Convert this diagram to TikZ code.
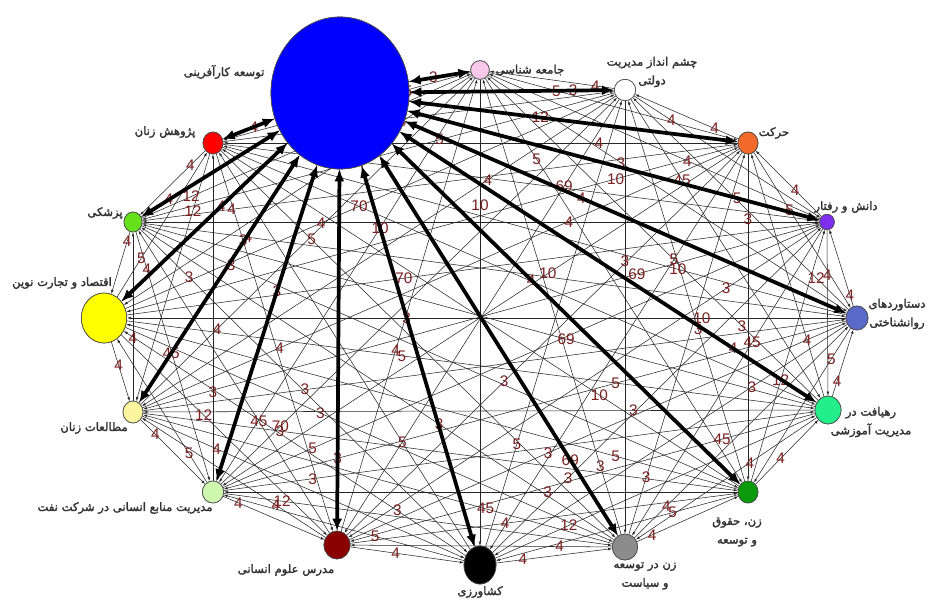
\documentclass[tikz,border=0pt]{standalone}
\usepackage{fontspec}
\TeXXeTstate=1
\newfontfamily\fa[Script=Arabic,FakeBold=2]{DejaVu Sans}
\newfontfamily\numf{Liberation Sans}
\usetikzlibrary{shapes.geometric,arrows.meta}
\definecolor{lab}{HTML}{7B1F1F}
\definecolor{cpink}{HTML}{F7C8EA}
\definecolor{corange}{HTML}{F26A2A}
\definecolor{cpurple}{HTML}{7F2FF0}
\definecolor{cslate}{HTML}{5A6AC8}
\definecolor{cmint}{HTML}{22EE8A}
\definecolor{cdkgreen}{HTML}{0A9A0A}
\definecolor{cgray}{HTML}{8C8C8C}
\definecolor{cdkred}{HTML}{8B0000}
\definecolor{cltgreen}{HTML}{CDF7AE}
\definecolor{cltyellow}{HTML}{FAF59E}
\definecolor{cyellow}{HTML}{FFFF00}
\definecolor{cgreen}{HTML}{66E01A}
\definecolor{cred}{HTML}{FF0000}
\definecolor{cblue}{HTML}{0000FF}
\begin{document}
\begin{tikzpicture}[x=0.75pt,y=-0.75pt,
  vn/.style={ellipse,draw=black!70,line width=0.5pt,inner sep=0pt},
  fl/.style={font=\fa\fontsize{8.7}{14}\selectfont,text=black!80,inner sep=1pt},
  ln/.style={draw=black!85,line width=0.4pt,-{Latex[length=3pt,width=2pt]}},
  thickarr/.style={draw=black,line width=2.8pt,{Latex[length=9pt,width=7.5pt]}-{Latex[length=9pt,width=7.5pt]}},
  el/.style={font=\numf\fontsize{11.5}{12}\selectfont,text=lab,inner sep=0pt}]
\useasboundingbox (0,0) rectangle (928,600);
\fill[white] (0,0) rectangle (928,600);
% network nodes
\node[vn,fill=cpink,minimum width=14pt,minimum height=14pt] (n0) at (480,70) {};
\node[vn,fill=white,minimum width=16pt,minimum height=16pt] (n1) at (625,90) {};
\node[vn,fill=corange,minimum width=15pt,minimum height=16.5pt] (n2) at (748,143) {};
\node[vn,fill=cpurple,minimum width=11pt,minimum height=11.5pt] (n3) at (827,222) {};
\node[vn,fill=cslate,minimum width=16.5pt,minimum height=18pt] (n4) at (857,318) {};
\node[vn,fill=cmint,minimum width=19.5pt,minimum height=21pt] (n5) at (828,410) {};
\node[vn,fill=cdkgreen,minimum width=15pt,minimum height=16.5pt] (n6) at (748,492) {};
\node[vn,fill=cgray,minimum width=19pt,minimum height=19.5pt] (n7) at (625,547) {};
\node[vn,fill=black,minimum width=24pt,minimum height=28.5pt] (n8) at (480,565) {};
\node[vn,fill=cdkred,minimum width=19.5pt,minimum height=21pt] (n9) at (337,545) {};
\node[vn,fill=cltgreen,minimum width=16pt,minimum height=16.5pt] (n10) at (213,492) {};
\node[vn,fill=cltyellow,minimum width=15pt,minimum height=16.5pt] (n11) at (133,412) {};
\node[vn,fill=cyellow,minimum width=34pt,minimum height=37.5pt] (n12) at (104,318) {};
\node[vn,fill=cgreen,minimum width=13.5pt,minimum height=15pt] (n13) at (133,222) {};
\node[vn,fill=cred,minimum width=15pt,minimum height=16.5pt] (n14) at (213,143) {};
\node[vn,fill=cblue,minimum width=103.5pt,minimum height=114pt] (n15) at (340,93) {};
% thin connectors (every pair)
\foreach \i in {0,...,14}{
  \pgfmathtruncatemacro\s{\i+1}
  \foreach \j in {\s,...,15}{
    \pgfmathtruncatemacro\d{mod(\i+\j,2)}
    \ifnum\d=0 \draw[ln] (n\i) -- (n\j); \else \draw[ln] (n\j) -- (n\i); \fi
  }
}
% edge labels
\foreach \i in {0,...,14}{
  \pgfmathtruncatemacro\s{\i+1}
  \foreach \j in {\s,...,15}{
    \pgfmathtruncatemacro\m{mod(\i*7+\j*3,20)}
    \pgfmathsetmacro\p{{0.2,0.77,0.37,0.6,0.27,0.85}[mod(\i*3+\j*5,6)]}
    \pgfmathparse{{"4","3","45","4","10","3","5","4","3","4","10","5","3","4","69","3","4","70","5","12"}[\m]}
    \let\v\pgfmathresult
    \path (n\i) -- (n\j) node[el,pos=\p] {\v};
  }
}
% thick connectors from the big node
\foreach \k in {0,...,14}{
  \draw[thickarr] (n15) -- (n\k);
}
% redraw nodes on top
\node[vn,fill=cpink,minimum width=14pt,minimum height=14pt] at (480,70) {};
\node[vn,fill=white,minimum width=16pt,minimum height=16pt] at (625,90) {};
\node[vn,fill=corange,minimum width=15pt,minimum height=16.5pt] at (748,143) {};
\node[vn,fill=cpurple,minimum width=11pt,minimum height=11.5pt] at (827,222) {};
\node[vn,fill=cslate,minimum width=16.5pt,minimum height=18pt] at (857,318) {};
\node[vn,fill=cmint,minimum width=19.5pt,minimum height=21pt] at (828,410) {};
\node[vn,fill=cdkgreen,minimum width=15pt,minimum height=16.5pt] at (748,492) {};
\node[vn,fill=cgray,minimum width=19pt,minimum height=19.5pt] at (625,547) {};
\node[vn,fill=black,minimum width=24pt,minimum height=28.5pt] at (480,565) {};
\node[vn,fill=cdkred,minimum width=19.5pt,minimum height=21pt] at (337,545) {};
\node[vn,fill=cltgreen,minimum width=16pt,minimum height=16.5pt] at (213,492) {};
\node[vn,fill=cltyellow,minimum width=15pt,minimum height=16.5pt] at (133,412) {};
\node[vn,fill=cyellow,minimum width=34pt,minimum height=37.5pt] at (104,318) {};
\node[vn,fill=cgreen,minimum width=13.5pt,minimum height=15pt] at (133,222) {};
\node[vn,fill=cred,minimum width=15pt,minimum height=16.5pt] at (213,143) {};
\node[vn,fill=cblue,minimum width=103.5pt,minimum height=114pt] at (340,93) {};
% names
\node[fl,anchor=east] (t15) at (266,72) {\beginR توسعه کارآفرینی\endR};
\node[fl,anchor=west] (t0) at (494,70) {\beginR جامعه شناسی\endR};
\node[fl,align=center] (t1) at (652,72) {\beginR چشم انداز مدیریت\endR\\\beginR دولتی\endR};
\node[fl,anchor=west] (t2) at (757,133) {\beginR حرکت\endR};
\node[fl] (t3) at (846,207) {\beginR دانش و رفتار\endR};
\node[fl,align=center] (t4) at (897,314) {\beginR دستاوردهای\endR\\\beginR روانشناختی\endR};
\node[fl,align=center] (t5) at (871,422) {\beginR رهیافت در\endR\\\beginR مدیریت آموزشی\endR};
\node[fl,align=center] (t6) at (737,532) {\beginR زن، حقوق\endR\\\beginR و توسعه\endR};
\node[fl,align=center] (t7) at (645,576) {\beginR زن در توسعه\endR\\\beginR و سیاست\endR};
\node[fl] (t8) at (480,592) {\beginR کشاورزی\endR};
\node[fl] (t9) at (286,570) {\beginR مدرس علوم انسانی\endR};
\node[fl] (t10) at (125,508) {\beginR مدیریت منابع انسانی در شرکت نفت\endR};
\node[fl] (t11) at (94,428) {\beginR مطالعات زنان\endR};
\node[fl] (t12) at (62,283) {\beginR اقتصاد و تجارت نوین\endR};
\node[fl] (t13) at (105,213) {\beginR پزشکی\endR};
\node[fl] (t14) at (165,132) {\beginR پژوهش زنان\endR};
\end{tikzpicture}
\end{document}
